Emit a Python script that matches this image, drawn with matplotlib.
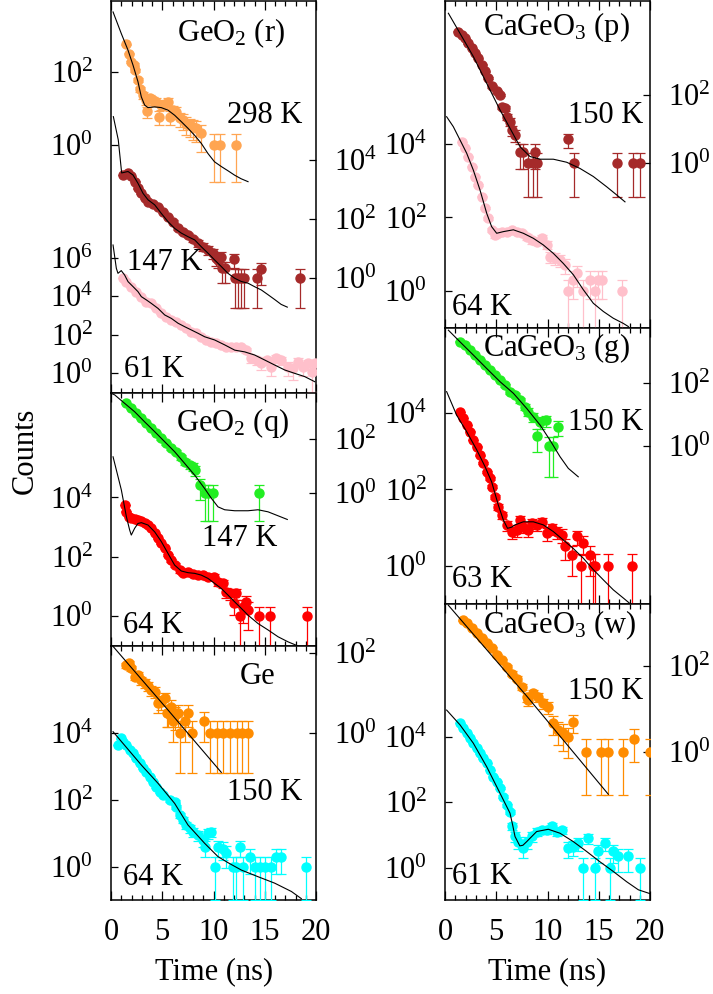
import numpy as np
import matplotlib

matplotlib.use("Agg")
import matplotlib.pyplot as plt
from matplotlib.ticker import FixedLocator, MultipleLocator, NullLocator

plt.rcParams["font.family"] = ["Liberation Serif", "DejaVu Serif"]
plt.rcParams["mathtext.fontset"] = "custom"
plt.rcParams["mathtext.rm"] = "Liberation Serif"
plt.rcParams["mathtext.it"] = "Liberation Serif:italic"

FIG_W, FIG_H = 713, 994
FS = 22

# ---- GeO2 (r) ----
r298_t = [1.50, 1.76, 1.98, 2.20, 2.37, 2.63, 2.86, 3.12, 3.45, 3.54, 3.77, 4.10, 4.42, 4.65,
          4.91, 5.24, 5.56, 5.79, 6.05, 6.37, 6.70, 7.02, 7.35, 7.67, 8.00, 8.33, 8.75, 10.05,
          10.60, 12.23]
r298_n = [575, 324, 191, 162, 112, 60, 34, 23, 17, 8.5, 19, 17, 15.5, 6.0, 12.6, 13.8, 15.5,
          6.0, 9.1, 8.1, 5.4, 4.8, 3.9, 3.5, 3.2, 2.9, 2.1, 1, 1, 1]
r298_fit_t = [0.20, 1.00, 1.66, 2.15, 2.63, 2.96, 3.28, 3.60, 4.26, 4.90, 5.56, 6.21, 6.86,
              7.51, 8.16, 8.81, 9.46, 10.10, 10.76, 11.40, 12.07, 12.70, 13.37]
r298_fit = [4470, 1150, 400, 155, 55, 21, 12.6, 10.7, 11.2, 10.7, 9.1, 6.6, 4.4, 2.9, 1.86,
            1.12, 0.59, 0.35, 0.26, 0.20, 0.15, 0.12, 0.10]

r147_t = [1.17, 1.66, 1.98, 2.31, 2.63, 2.96, 3.28, 3.61, 4.10, 4.59, 5.07, 5.56, 6.05, 6.54,
          7.02, 7.51, 8.00, 8.49, 8.98, 9.46, 9.95, 10.28, 10.47, 10.76, 10.85, 11.09, 12.00,
          12.10, 12.40, 12.70, 13.00, 14.27, 14.67, 18.44]
r147_n = [3160, 3630, 2820, 1900, 1120, 760, 510, 400, 330, 270, 180, 123, 83, 49, 38, 30,
          21, 15.5, 11.7, 9.1, 7.1, 4.8, 4.2, 5.4, 2.2, 2.2, 4.4, 1, 1, 1, 1, 1, 2.0, 1]
r147_fit_t = [0.23, 0.71, 1.04, 1.66, 2.15, 2.63, 3.12, 3.61, 4.26, 4.91, 5.56, 6.21, 6.86,
              7.51, 8.16, 8.81, 9.46, 10.10, 10.76, 11.40, 12.07, 12.70, 13.37, 14.00, 14.67,
              15.30, 15.97, 16.60, 17.20]
r147_fit = [302000, 49000, 3720, 4170, 3160, 1660, 760, 457, 309, 158, 83, 49, 34, 25.7, 20,
            11.7, 7.1, 4.2, 2.5, 1.48, 1.0, 0.78, 0.68, 0.52, 0.40, 0.28, 0.19, 0.13, 0.105]

r61_t = [1.17, 1.50, 1.98, 2.47, 2.96, 3.45, 3.93, 4.42, 4.91, 5.40, 5.89, 6.37, 6.86, 7.35,
         7.84, 8.33, 8.81, 9.30, 9.79, 10.28, 10.76, 11.25, 11.74, 12.23, 12.70, 13.20, 13.70,
         14.20, 14.67, 15.20, 15.64, 16.13, 16.60, 17.30, 17.76, 18.24, 18.70, 19.20, 19.60,
         19.90]
r61_n = [85000, 57500, 31600, 17400, 9550, 5250, 4270, 2340, 1290, 870, 590, 480, 324, 219,
         145, 120, 79, 54, 44, 36, 30, 24, 24, 22, 24, 16, 6, 4.9, 3.3, 4.9, 2.2, 6, 4.9, 2.2,
         1.8, 4.1, 2.2, 3.3, 1.2, 3.3]
r61_fit_t = [0.20, 0.52, 0.68, 1.00, 1.33, 1.66, 2.15, 2.63, 2.96, 3.45, 3.93, 4.59, 5.24,
             5.89, 6.54, 7.19, 7.84, 8.49, 9.14, 10.11, 11.09, 12.07, 13.04, 14.02, 15.00,
             15.97, 16.94, 17.92, 18.89, 19.87]
r61_fit = [4.57e6, 282000, 155000, 214000, 126000, 57500, 31600, 17400, 9550, 6460, 4270, 2340,
           1070, 708, 398, 263, 178, 120, 79, 54, 30, 16, 13, 8.9, 4.9, 2.7, 1.5, 1.0, 0.68,
           0.37]

# ---- GeO2 (q) ----
q147_t = [1.50, 1.98, 2.47, 2.96, 3.45, 3.93, 4.42, 4.91, 5.40, 5.89, 6.37, 6.86, 7.19, 7.67,
          8.00, 8.23, 8.72, 9.14, 9.46, 9.95, 14.40]
q147_n = [2040, 1320, 870, 575, 375, 245, 162, 105, 69, 45, 34, 22, 14.5, 11, 9.6, 7.2, 2.0,
          1, 1, 1, 1]
q147_fit_t = [0.05, 0.36, 1.33, 2.31, 3.28, 4.26, 5.24, 6.21, 7.19, 8.16, 9.14, 9.79, 10.44,
              11.09, 12.07, 13.37, 14.34, 15.32, 16.30, 17.20]
q147_fit = [4700, 4170, 2040, 1000, 427, 186, 79, 34, 12.6, 4.7, 1.5, 0.66, 0.32, 0.25, 0.23,
            0.23, 0.25, 0.21, 0.15, 0.11]

q64_t = [1.33, 1.50, 1.72, 1.98, 2.31, 2.63, 2.96, 3.28, 3.61, 3.93, 4.26, 4.59, 4.91, 5.24,
         5.56, 5.89, 6.21, 6.70, 7.02, 7.51, 8.00, 8.49, 8.98, 9.46, 10.05, 10.44, 10.93,
         11.25, 11.58, 12.00, 12.23, 12.55, 12.88, 13.20, 13.37, 14.40, 15.54, 19.10]
q64_n = [5500, 3300, 2240, 1960, 1820, 1740, 1590, 1410, 1170, 910, 620, 415, 280, 190, 114,
         77, 52, 35, 29, 31, 27, 24, 24, 21, 21, 14, 12.6, 6.6, 5.8, 2.7, 5.8, 1, 2, 3, 1.6,
         1, 1, 1]
q64_fit_t = [0.20, 1.01, 1.50, 1.82, 1.98, 2.31, 2.63, 2.96, 3.61, 4.26, 4.91, 5.56, 6.21,
             6.86, 7.51, 8.16, 8.81, 9.46, 10.11, 10.76, 11.41, 12.07, 12.72, 13.37, 14.34,
             15.32, 16.30, 17.27, 18.40]
q64_fit = [234000, 17800, 2240, 794, 537, 912, 1320, 1410, 1170, 690, 324, 129, 52, 33, 29,
           27.5, 24, 18.6, 12.6, 8.5, 5.1, 3.0, 1.8, 1.07, 0.56, 0.34, 0.20, 0.135, 0.093]

# ---- Ge ----
ge150_t = [1.50, 1.72, 1.98, 2.31, 2.63, 2.96, 3.28, 3.61, 3.93, 4.26, 4.59, 4.91, 5.24,
           5.43, 5.56, 5.89, 6.08, 6.21, 6.54, 6.73, 7.19, 7.55, 7.87, 9.07, 9.66, 10.30,
           10.96, 11.60, 12.26, 12.75, 13.40]
ge150_n = [51, 56, 42, 26, 29, 21, 18, 15, 12, 11, 5.6, 6.2, 7.5, 3.2, 3.2, 4.6, 2.0, 2.9,
           3.2, 1, 2.0, 3.2, 1, 2.0, 1, 1, 1, 1, 1, 1, 1]
ge150_fit_t = [0.20, 5.56, 10.76]
ge150_fit = [148, 3.8, 0.105]

ge64_t = [0.70, 1.00, 1.17, 1.50, 1.82, 2.15, 2.47, 2.80, 3.12, 3.45, 3.77, 4.10, 4.42, 4.75,
          5.07, 5.72, 6.21, 6.37, 6.70, 7.02, 7.35, 7.67, 8.00, 8.49, 8.98, 9.14, 9.46, 9.79,
          10.11, 10.44, 10.93, 11.25, 11.90, 12.23, 12.55, 12.88, 13.53, 14.00, 14.50, 15.00,
          15.64, 16.13, 16.60, 19.06]
ge64_n = [4470, 7000, 5600, 4470, 3160, 2510, 1780, 1260, 890, 710, 500, 355, 250, 178, 141,
          100, 89, 63, 35, 25, 18, 14, 11, 9, 6.3, 4, 10, 11, 1, 4, 3.5, 2.5, 1, 1, 4, 1, 2,
          1, 1, 1, 1, 2, 2, 1]
ge64_fit_t = [0.20, 2.96, 4.59, 6.21, 7.51, 9.14, 10.44, 11.41, 12.72, 14.34, 15.97, 17.60,
              18.57]
ge64_fit = [11200, 1120, 316, 79, 17.8, 5.0, 2.0, 1.32, 0.79, 0.50, 0.32, 0.18, 0.11]

# ---- CaGeO3 (p) ----
p150_t = [1.30, 1.63, 1.95, 2.28, 2.60, 2.93, 3.25, 3.58, 3.90, 4.23, 4.55, 5.04, 5.37, 5.53,
          5.85, 6.02, 6.34, 6.50, 6.83, 7.32, 7.64, 8.13, 8.62, 8.78, 8.94, 11.97, 12.62,
          16.75, 18.37, 19.02]
p150_n = [7250, 5770, 4680, 3300, 2350, 1700, 1200, 760, 490, 310, 178, 126, 100, 44, 41, 23,
          16.5, 9.3, 6.6, 2.1, 2.1, 1, 1, 2.1, 1, 5, 1, 1, 1, 1]
p150_fit_t = [0.33, 1.46, 2.76, 4.07, 5.37, 6.34, 7.32, 8.29, 9.27, 10.57, 11.87, 13.17,
              14.47, 15.77, 16.75, 17.56]
p150_fit = [25100, 6460, 1350, 219, 36, 10.5, 3.0, 1.55, 1.29, 1.29, 1.05, 0.69, 0.40, 0.20,
            0.115, 0.072]

p64_t = [1.63, 1.95, 2.28, 2.60, 2.93, 3.25, 3.58, 3.90, 4.23, 4.55, 4.88, 5.20, 5.53, 6.02,
         6.50, 6.99, 7.48, 7.97, 8.46, 8.94, 9.43, 9.92, 10.24, 10.73, 11.22, 11.71, 12.03,
         12.52, 12.85, 13.50, 14.15, 14.63, 14.96, 15.28, 17.24]
p64_n = [11500, 7600, 4540, 2400, 1290, 760, 370, 178, 95, 46, 33, 37, 41, 41, 46, 41, 37, 30,
         24, 22, 27, 18, 8.6, 7.7, 7, 5.1, 1, 2, 3, 1, 2, 1, 2, 2, 1]
p64_fit_t = [0.16, 0.81, 1.46, 2.11, 2.76, 3.41, 4.07, 4.55, 5.04, 5.69, 6.67, 7.64, 8.62,
             9.59, 10.57, 11.54, 12.52, 13.50, 14.47, 15.45, 16.42, 17.40, 17.89]
p64_fit = [55000, 29500, 12900, 5620, 1950, 562, 129, 56, 37, 41, 46, 37, 27, 17.8, 10.5, 5.6,
           2.75, 1.07, 0.46, 0.275, 0.18, 0.13, 0.107]

# ---- CaGeO3 (g) ----
g150_t = [1.46, 1.95, 2.44, 2.93, 3.41, 3.90, 4.39, 4.88, 5.37, 5.85, 6.34, 6.83, 7.32, 7.80,
          8.13, 8.62, 9.00, 9.27, 9.85, 10.18, 10.57, 11.06]
g150_n = [2100, 1650, 1140, 790, 550, 380, 263, 182, 126, 87, 54, 42, 29, 18, 12.4, 8.6, 2.1,
          5.9, 6.7, 1, 1, 4.1]
g150_fit_t = [0.33, 1.46, 2.76, 4.07, 5.37, 6.67, 7.97, 9.27, 10.24, 11.22, 12.03, 13.00]
g150_fit = [4900, 2090, 794, 295, 112, 48, 15.8, 4.7, 1.55, 0.46, 0.195, 0.105]

g63_t = [1.46, 1.79, 2.11, 2.44, 2.76, 3.09, 3.41, 3.74, 4.07, 4.39, 4.62, 4.88, 5.20, 5.53,
         6.02, 6.50, 6.99, 7.32, 7.64, 8.13, 8.46, 8.94, 9.43, 9.92, 10.40, 10.90, 11.38,
         11.71, 12.36, 12.85, 13.24, 13.50, 14.15, 14.40, 14.63, 15.87, 18.20]
g63_n = [11000, 7400, 4900, 3300, 2000, 1320, 790, 490, 295, 195, 118, 65, 35, 21, 11.7, 7.8,
         8.6, 16, 10.5, 8.6, 13, 11.7, 14, 7, 9.5, 7.8, 6.4, 3.2, 1.9, 5.8, 1, 3.9, 1.9, 1,
         1, 1, 1]
g63_fit_t = [0.16, 1.14, 2.11, 3.09, 3.90, 4.55, 5.20, 5.69, 6.10, 6.50, 6.83, 7.64, 8.62,
             9.59, 10.57, 11.54, 12.52, 13.50, 14.47, 15.45, 16.42, 17.40, 18.05]
g63_fit = [37000, 8900, 3300, 1100, 400, 158, 39, 15.8, 9.5, 10.2, 11.7, 14.1, 14.1, 11.7,
           7.8, 4.7, 2.8, 1.55, 0.78, 0.42, 0.23, 0.14, 0.10]

# ---- CaGeO3 (w) ----
w150_t = [1.79, 2.11, 2.60, 3.09, 3.58, 4.07, 4.55, 5.04, 5.53, 6.02, 6.50, 6.99, 7.48, 7.97,
          8.13, 8.62, 9.10, 9.59, 10.08, 10.57, 11.06, 11.54, 12.03, 12.52, 13.76, 15.22,
          15.87, 17.33, 18.44, 20.00]
w150_n = [1180, 1000, 760, 580, 445, 340, 260, 180, 138, 96, 67, 51, 33, 19, 16, 23, 19, 13.5,
          11, 4.6, 3.2, 2.7, 2.2, 5, 1, 1, 1, 1, 2, 1]
w150_fit_t = [0.33, 7.97, 15.93]
w150_fit = [2630, 20, 0.102]

w61_t = [1.46, 1.79, 2.11, 2.44, 2.76, 3.09, 3.41, 3.74, 4.07, 4.39, 4.72, 5.04, 5.37, 5.69,
         6.02, 6.34, 6.57, 6.83, 7.15, 7.58, 7.97, 8.46, 8.94, 9.43, 9.92, 10.41, 10.89,
         11.38, 12.03, 12.52, 13.00, 13.50, 13.98, 14.63, 14.96, 15.61, 16.10, 16.42, 16.91,
         17.89, 19.02]
w61_n = [25500, 17900, 12600, 8900, 6300, 4400, 3100, 2190, 1550, 955, 600, 425, 263, 148, 81,
         51, 18, 8.9, 6.2, 3.9, 6.2, 8.9, 12.6, 14, 14, 18, 12.6, 14, 3.9, 4.4, 5.5, 1, 7.9,
         1, 3.1, 5.5, 1, 3.1, 2.2, 2.2, 1]
w61_fit_t = [0.16, 1.46, 2.76, 4.07, 5.37, 6.34, 6.60, 6.83, 7.30, 7.60, 7.97, 8.94, 10.08,
             11.22, 12.52, 13.82, 15.12, 16.42, 17.72, 18.86, 20.00]
w61_fit = [64600, 22900, 6300, 1200, 186, 46, 20, 8.9, 4.6, 4.8, 6.2, 12.6, 14.8, 11.2, 6.2,
           3.1, 1.5, 0.76, 0.37, 0.21, 0.16]

LIGHT_ORANGE = "#ffa552"
BROWN = "#a52a2a"
PINK = "#ffc0cb"
GREEN = "#22ee22"
RED = "#ff0000"
DARK_ORANGE = "#ff8c00"
CYAN = "#00ffff"


def px_rect(xs, ys):
    x0, x1 = xs
    y0, y1 = ys
    return [x0 / FIG_W, 1 - y1 / FIG_H, (x1 - x0) / FIG_W, (y1 - y0) / FIG_H]


def poisson_err(counts):
    counts = np.asarray(counts, dtype=float)
    sigma = np.sqrt(counts)
    # lower bars stop at 0.1 instead of running to zero
    lower = np.minimum(sigma, counts - 0.1)
    return np.vstack([lower, sigma])


def draw_series(base, t, counts, fit_t, fit, color, side, decades, ticks):
    ax = base.twinx()
    for spine in ax.spines.values():
        spine.set_visible(False)
    ax.set_yscale("log")
    ax.set_ylim(10.0 ** decades[0], 10.0 ** decades[1])
    ax.errorbar(t, counts, yerr=poisson_err(counts), fmt="o", color=color, mec=color,
                ms=6.5, elinewidth=0.9, capsize=3.5, capthick=0.9, zorder=2)
    ax.plot(fit_t, fit, color="black", lw=0.8, zorder=3)
    ax.yaxis.set_major_locator(FixedLocator([10.0 ** k for k in ticks]))
    ax.yaxis.set_minor_locator(NullLocator())
    ax.set_yticklabels([rf"$10^{{{k}}}$" for k in ticks])
    if side == "left":
        ax.yaxis.tick_left()
    else:
        ax.yaxis.tick_right()
    ax.tick_params(axis="y", which="both", direction="in", length=5, width=0.9,
                   pad=13, labelsize=FS)
    return ax


LEFT_X = (111, 316)
RIGHT_X = (445, 650)

panels = [
    dict(xs=LEFT_X, ys=(1, 393), bottom=False, series=[
        (r298_t, r298_n, r298_fit_t, r298_fit, LIGHT_ORANGE, "left", (-6.79, 3.95), [0, 2]),
        (r147_t, r147_n, r147_fit_t, r147_fit, BROWN, "right", (-3.89, 9.40), [0, 2, 4]),
        (r61_t, r61_n, r61_fit_t, r61_fit, PINK, "left", (-1.02, 19.32), [0, 2, 4, 6]),
    ], labels=[
        (0.585, 0.918, r"GeO$_2$ (r)", "center"),
        (0.932, 0.709, "298 K", "right"),
        (0.078, 0.334, "147 K", "left"),
        (0.063, 0.059, "61 K", "left"),
    ]),
    dict(xs=LEFT_X, ys=(393, 646), bottom=False, series=[
        (q147_t, q147_n, q147_fit_t, q147_fit, GREEN, "right", (-5.61, 3.69), [0, 2]),
        (q64_t, q64_n, q64_fit_t, q64_fit, RED, "left", (-1.01, 7.52), [0, 2, 4]),
    ], labels=[
        (0.595, 0.881, r"GeO$_2$ (q)", "center"),
        (0.81, 0.423, "147 K", "right"),
        (0.059, 0.083, "64 K", "left"),
    ]),
    dict(xs=LEFT_X, ys=(646, 900), bottom=True, series=[
        (ge150_t, ge150_n, ge150_fit_t, ge150_fit, DARK_ORANGE, "right", (-4.17, 2.18), [0, 2]),
        (ge64_t, ge64_n, ge64_fit_t, ge64_fit, CYAN, "left", (-1.0, 6.62), [0, 2, 4]),
    ], labels=[
        (0.715, 0.878, "Ge", "center"),
        (0.932, 0.425, "150 K", "right"),
        (0.059, 0.087, "64 K", "left"),
    ]),
    dict(xs=RIGHT_X, ys=(1, 328), bottom=False, series=[
        (p150_t, p150_n, p150_fit_t, p150_fit, BROWN, "right", (-4.85, 4.76), [0, 2]),
        (p64_t, p64_n, p64_fit_t, p64_fit, PINK, "left", (-1.01, 7.89), [0, 2, 4]),
    ], labels=[
        (0.185, 0.92, r"CaGeO$_3$ (p)", "left"),
        (0.966, 0.651, "150 K", "right"),
        (0.034, 0.064, "64 K", "left"),
    ]),
    dict(xs=RIGHT_X, ys=(328, 604), bottom=False, series=[
        (g150_t, g150_n, g150_fit_t, g150_fit, GREEN, "right", (-5.03, 3.76), [0, 2]),
        (g63_t, g63_n, g63_fit_t, g63_fit, RED, "left", (-1.01, 6.24), [0, 2, 4]),
    ], labels=[
        (0.185, 0.928, r"CaGeO$_3$ (g)", "left"),
        (0.966, 0.659, "150 K", "right"),
        (0.034, 0.087, "63 K", "left"),
    ]),
    dict(xs=RIGHT_X, ys=(604, 900), bottom=True, series=[
        (w150_t, w150_n, w150_fit_t, w150_fit, DARK_ORANGE, "right", (-3.46, 3.45), [0, 2]),
        (w61_t, w61_n, w61_fit_t, w61_fit, CYAN, "left", (-0.99, 8.05), [0, 2, 4]),
    ], labels=[
        (0.185, 0.929, r"CaGeO$_3$ (w)", "left"),
        (0.966, 0.703, "150 K", "right"),
        (0.034, 0.078, "61 K", "left"),
    ]),
]

fig = plt.figure(figsize=(FIG_W / 100, FIG_H / 100), dpi=100)

for panel in panels:
    base = fig.add_axes(px_rect(panel["xs"], panel["ys"]))
    base.set_xlim(0, 20)
    base.set_yticks([])
    base.xaxis.set_major_locator(MultipleLocator(5))
    base.xaxis.set_minor_locator(MultipleLocator(1))
    base.tick_params(axis="x", which="both", direction="in", top=True, bottom=True,
                     width=0.9, labelbottom=panel["bottom"], labelsize=FS, pad=13)
    base.tick_params(axis="x", which="major", length=6.5)
    base.tick_params(axis="x", which="minor", length=3.3)
    for spine in base.spines.values():
        spine.set_linewidth(1.1)

    overlays = [draw_series(base, *spec) for spec in panel["series"]]
    top = overlays[-1]
    for x, y, text, ha in panel["labels"]:
        top.text(x, y, text, transform=top.transAxes, ha=ha, va="center", fontsize=FS,
                 zorder=5)

fig.text(25 / FIG_W, 1 - 451 / FIG_H, "Counts", rotation=90, ha="center", va="center",
         fontsize=FS)
fig.text(214 / FIG_W, 1 - 972 / FIG_H, "Time (ns)", ha="center", va="center", fontsize=FS)
fig.text(547 / FIG_W, 1 - 972 / FIG_H, "Time (ns)", ha="center", va="center", fontsize=FS)

fig.savefig("out.png", dpi=100)
